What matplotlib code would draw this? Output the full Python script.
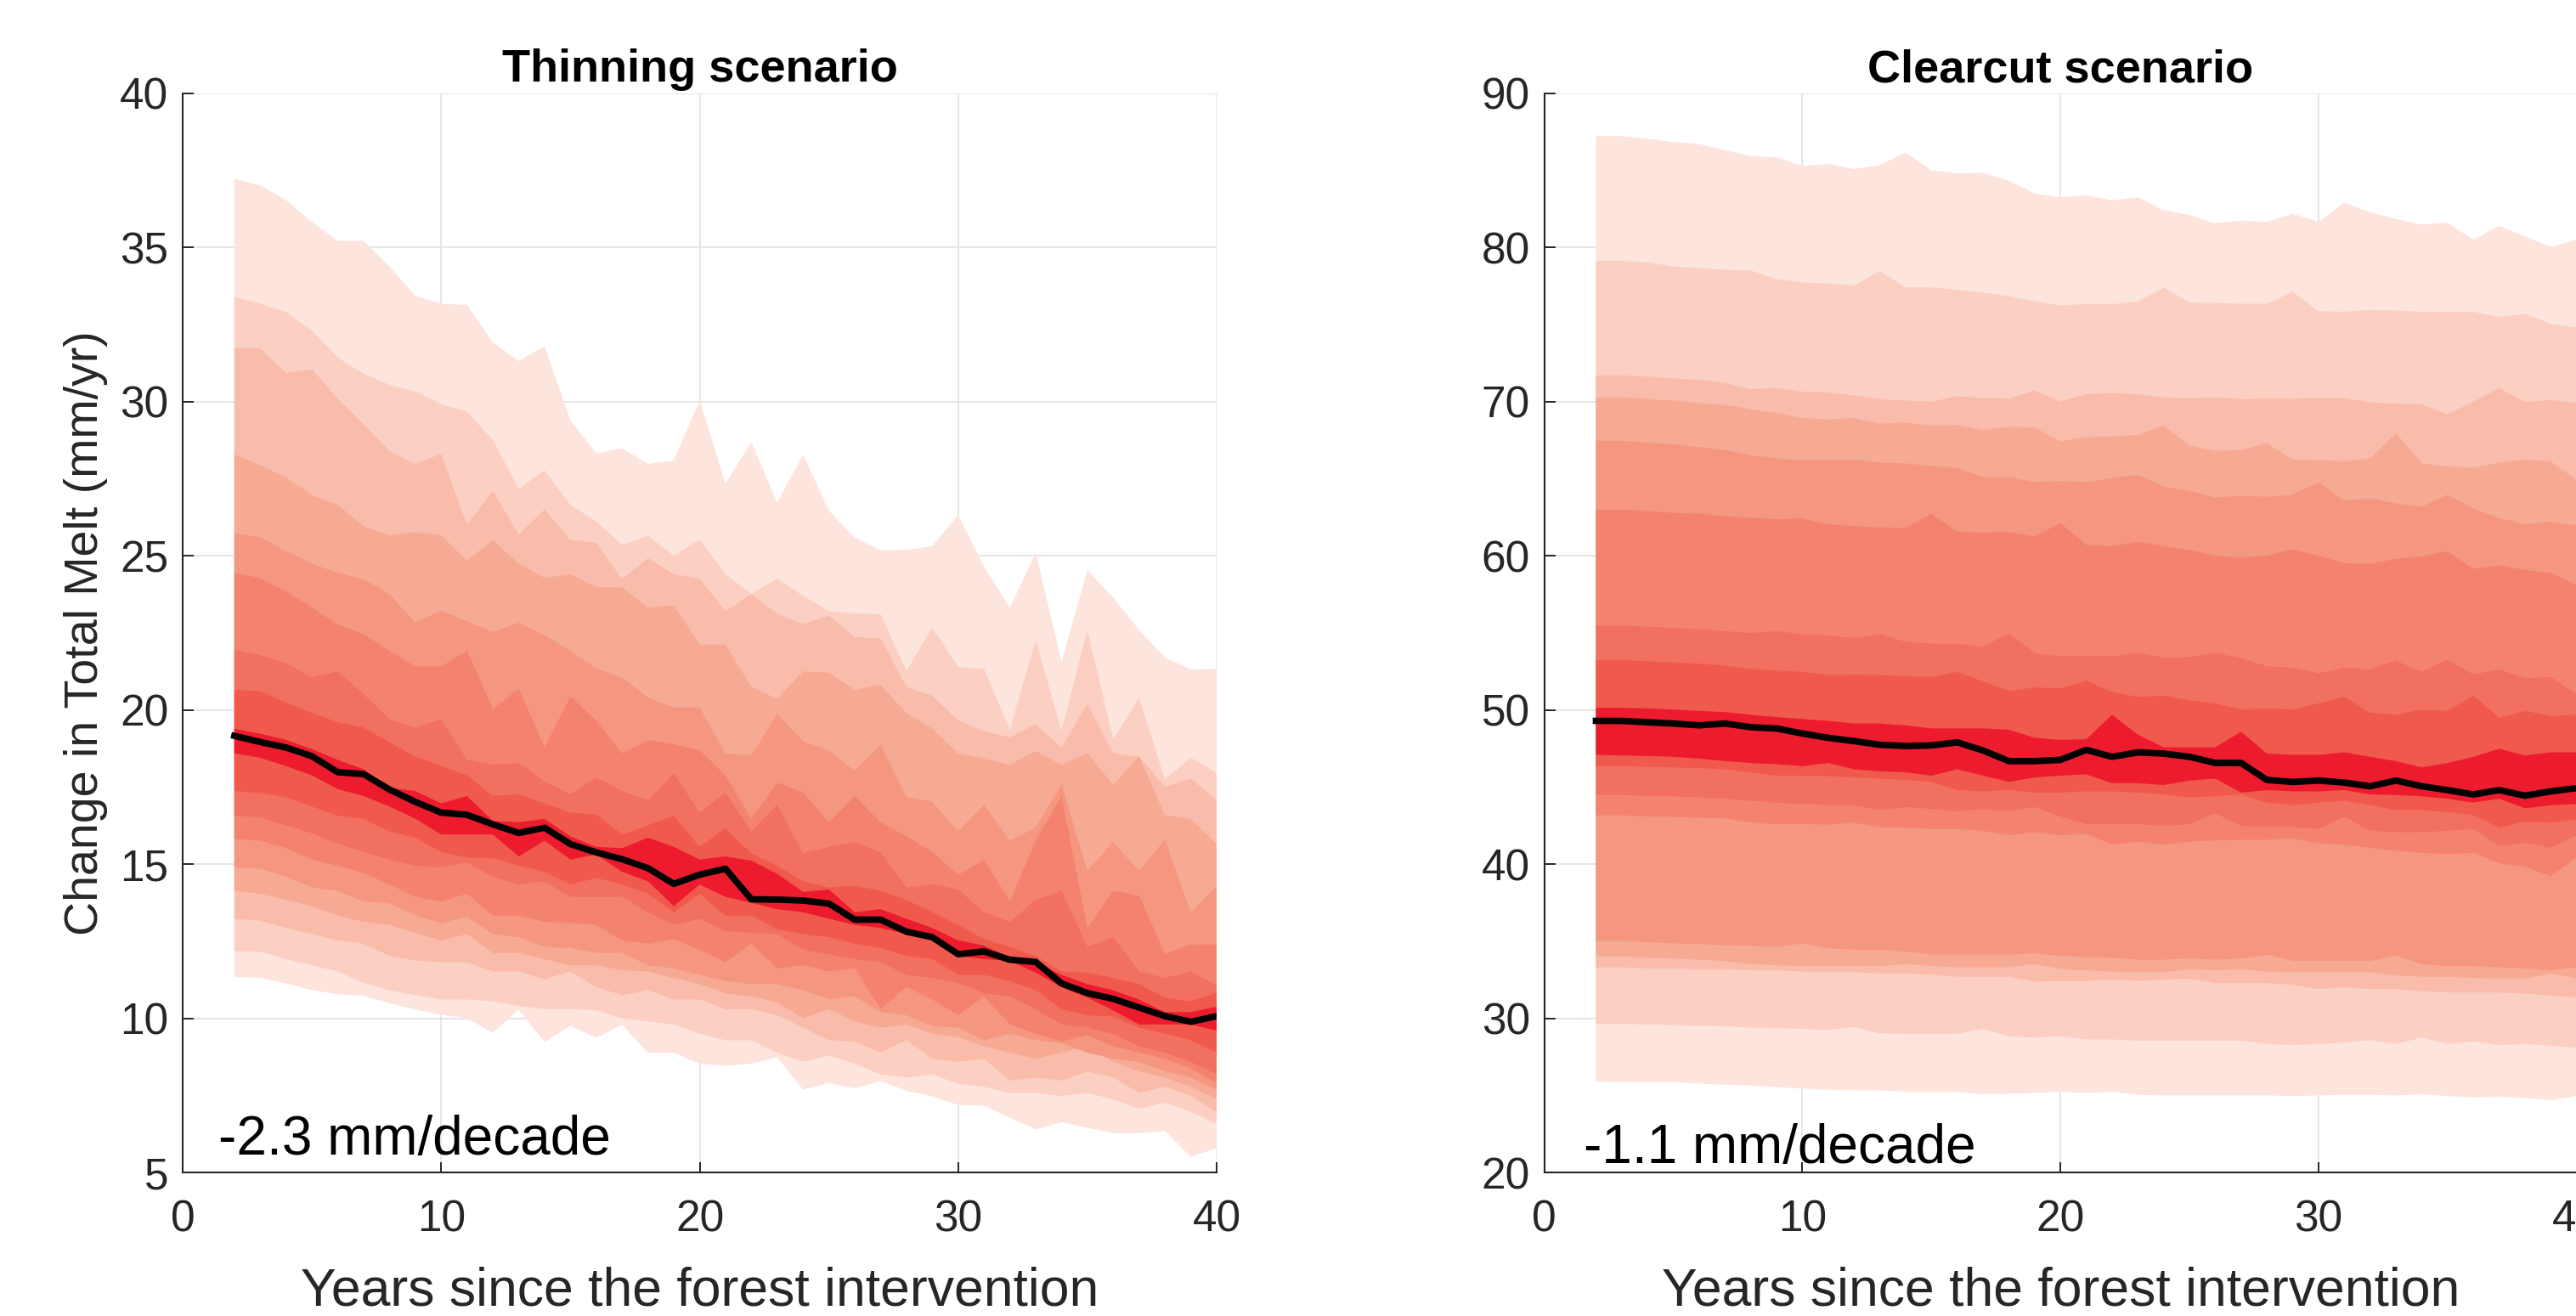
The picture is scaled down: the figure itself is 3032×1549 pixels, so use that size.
import matplotlib
matplotlib.use("Agg")
import matplotlib.pyplot as plt

# Years since the intervention (x positions of every percentile series)
years = list(range(2, 41))

# ---------------- Thinning scenario: percentiles of change in total melt (mm/yr)
thin_p95 = [37.24, 37.02, 36.54, 35.83, 35.22, 35.22, 34.39, 33.44, 33.18, 33.14, 31.93, 31.32, 31.81,
            29.40, 28.33, 28.49, 27.99, 28.09, 30.05, 27.34, 28.70, 26.72, 28.29, 26.47, 25.59, 25.18,
            25.20, 25.32, 26.33, 24.66, 23.32, 25.10, 21.57, 24.54, 23.65, 22.60, 21.71, 21.32, 21.34]
thin_p90 = [33.39, 33.19, 32.91, 32.32, 31.43, 30.91, 30.55, 30.34, 29.92, 29.68, 28.76, 27.18, 27.78,
            26.66, 26.12, 25.36, 25.66, 25.01, 25.53, 24.41, 23.77, 24.27, 23.71, 23.21, 23.14, 23.12,
            21.27, 22.69, 21.40, 21.35, 19.37, 22.27, 19.32, 22.61, 19.06, 20.40, 17.75, 18.46, 17.98]
thin_p85 = [31.76, 31.74, 30.94, 31.06, 30.10, 29.28, 28.41, 27.99, 28.31, 26.02, 27.12, 25.70, 26.51,
            25.53, 25.43, 24.25, 24.93, 24.41, 24.27, 23.21, 23.77, 23.14, 22.79, 23.07, 22.37, 22.33,
            20.76, 20.47, 19.67, 19.32, 19.12, 19.55, 18.80, 20.21, 18.60, 18.50, 17.52, 17.79, 17.08]
thin_p80 = [28.29, 27.95, 27.55, 26.98, 26.66, 25.97, 25.67, 25.77, 25.67, 24.86, 25.51, 24.76, 24.29,
            24.41, 23.99, 23.99, 23.32, 23.40, 22.13, 22.13, 20.76, 20.37, 21.26, 21.22, 20.66, 20.82,
            19.91, 19.40, 18.60, 18.43, 18.23, 18.68, 18.23, 18.60, 17.59, 18.50, 16.60, 16.48, 15.66]
thin_p75 = [25.73, 25.61, 25.16, 24.76, 24.45, 24.25, 23.77, 22.84, 23.24, 22.88, 22.54, 22.84, 22.43,
            21.93, 21.36, 21.06, 20.41, 20.09, 20.09, 18.60, 18.54, 19.87, 19.00, 18.70, 18.03, 18.88,
            17.18, 17.04, 16.07, 16.94, 15.77, 16.20, 17.60, 14.80, 15.73, 14.79, 15.81, 13.44, 14.31]
thin_p70 = [24.45, 24.29, 23.85, 23.34, 22.78, 22.47, 21.93, 21.42, 21.42, 21.93, 20.05, 20.70, 18.80,
            20.45, 19.67, 18.60, 19.04, 18.90, 18.70, 17.89, 16.48, 17.65, 17.34, 16.37, 17.22, 16.37,
            15.91, 15.40, 14.66, 15.16, 13.81, 15.77, 17.22, 12.94, 14.15, 13.99, 12.10, 12.40, 12.41]
thin_p65 = [21.97, 21.79, 21.53, 21.06, 21.26, 20.52, 19.71, 19.44, 19.71, 18.39, 18.23, 18.29, 17.69,
            17.28, 17.83, 17.38, 17.08, 17.95, 16.68, 17.34, 16.07, 16.94, 15.36, 15.57, 15.73, 15.40,
            14.25, 14.35, 14.19, 13.45, 13.14, 13.85, 14.15, 12.33, 12.64, 11.53, 11.32, 11.53, 11.08]
thin_p60 = [20.66, 20.62, 20.25, 19.91, 19.61, 19.44, 18.96, 18.50, 18.19, 17.89, 17.22, 17.28, 16.98,
            16.68, 16.62, 15.97, 16.27, 16.58, 15.57, 16.17, 15.36, 14.96, 14.45, 14.25, 14.31, 14.15,
            13.85, 13.45, 13.04, 12.58, 12.33, 12.03, 11.53, 11.49, 11.32, 11.12, 10.68, 10.56, 10.84]
thin_p55 = [19.40, 19.24, 19.04, 18.74, 18.39, 18.09, 17.49, 17.38, 16.98, 17.22, 16.41, 16.37, 16.48,
            15.91, 15.57, 15.53, 15.87, 15.57, 15.16, 15.26, 15.12, 14.70, 14.11, 14.19, 13.45, 13.55,
            13.24, 12.94, 12.54, 12.37, 11.99, 11.83, 11.42, 11.12, 10.92, 10.62, 10.21, 10.21, 10.39]
thin_p50 = [19.17, 18.97, 18.79, 18.51, 17.99, 17.93, 17.43, 17.03, 16.68, 16.61, 16.30, 16.02, 16.19,
            15.66, 15.39, 15.17, 14.88, 14.37, 14.67, 14.86, 13.87, 13.86, 13.83, 13.73, 13.21, 13.21,
            12.82, 12.64, 12.09, 12.18, 11.91, 11.84, 11.14, 10.83, 10.64, 10.36, 10.08, 9.90, 10.08]
thin_p45 = [18.60, 18.46, 18.19, 17.89, 17.44, 17.22, 16.88, 16.48, 15.97, 15.97, 15.97, 15.26, 15.77,
            15.16, 15.32, 14.76, 14.45, 13.65, 14.35, 13.95, 13.75, 13.55, 13.45, 13.24, 13.04, 12.94,
            12.74, 12.54, 12.03, 11.93, 11.87, 11.49, 11.02, 10.68, 10.27, 9.81, 9.81, 9.81, 9.61]
thin_p40 = [17.38, 17.32, 17.18, 16.88, 16.58, 16.48, 16.07, 15.87, 15.40, 15.22, 15.20, 14.96, 14.76,
            14.35, 14.56, 14.35, 14.05, 13.45, 14.05, 13.34, 13.34, 12.90, 12.74, 12.64, 12.43, 12.29,
            12.03, 11.93, 11.42, 11.42, 11.22, 10.92, 10.31, 10.11, 10.07, 9.71, 9.51, 9.30, 8.90]
thin_p35 = [16.58, 16.52, 16.27, 16.01, 15.67, 15.40, 15.16, 14.96, 14.90, 15.06, 14.60, 14.35, 14.45,
            13.95, 13.95, 13.95, 13.45, 13.04, 13.24, 12.84, 12.78, 12.74, 12.23, 12.09, 11.93, 11.83,
            11.42, 11.32, 11.16, 10.82, 10.72, 10.31, 9.81, 9.71, 9.51, 9.10, 8.90, 8.60, 8.19]
thin_p30 = [15.83, 15.77, 15.53, 15.16, 14.96, 14.72, 14.35, 13.95, 13.79, 14.05, 13.34, 13.34, 13.14,
            13.10, 13.04, 12.54, 12.43, 12.58, 12.23, 11.83, 12.43, 11.63, 11.73, 11.53, 11.63, 10.31,
            11.02, 10.62, 10.11, 10.72, 9.81, 9.51, 9.26, 9.47, 9.10, 8.90, 8.70, 8.39, 7.89]
thin_p25 = [14.90, 14.86, 14.60, 14.25, 14.15, 13.79, 13.75, 13.34, 13.10, 13.30, 12.74, 12.64, 12.33,
            12.29, 12.13, 12.13, 11.73, 11.63, 11.42, 11.22, 11.12, 11.12, 10.92, 10.62, 10.72, 10.21,
            10.11, 9.75, 9.71, 9.30, 9.51, 9.30, 9.20, 8.90, 8.70, 8.60, 8.29, 8.09, 7.69]
thin_p20 = [14.15, 14.05, 13.85, 13.65, 13.34, 13.14, 13.04, 12.78, 12.54, 12.74, 12.13, 12.13, 11.93,
            11.73, 11.73, 11.57, 11.53, 11.32, 11.12, 10.82, 10.72, 10.52, 10.01, 10.31, 9.91, 9.71,
            9.81, 9.51, 9.40, 9.10, 8.90, 8.70, 8.90, 9.10, 8.60, 8.29, 8.09, 7.79, 7.38]
thin_p15 = [13.24, 13.18, 12.94, 12.74, 12.54, 12.43, 12.03, 11.89, 11.83, 11.83, 11.53, 11.53, 11.28,
            11.53, 11.02, 10.76, 10.92, 10.62, 10.62, 10.31, 10.31, 10.11, 9.71, 9.30, 9.26, 8.90,
            9.30, 8.70, 8.60, 8.70, 7.99, 8.09, 7.99, 8.29, 8.09, 7.59, 7.79, 7.49, 6.98]
thin_p10 = [12.19, 12.17, 11.93, 11.73, 11.53, 11.16, 10.92, 10.76, 10.62, 10.62, 10.56, 10.41, 10.31,
            10.31, 10.27, 10.01, 9.91, 9.81, 9.51, 9.30, 9.30, 8.90, 8.60, 8.80, 8.54, 8.19,
            8.09, 8.19, 7.89, 7.79, 7.59, 7.59, 7.49, 7.59, 7.38, 7.08, 7.28, 6.98, 6.58]
thin_p5 = [11.35, 11.32, 11.14, 10.93, 10.79, 10.74, 10.50, 10.29, 10.13, 10.01, 9.55, 10.29, 9.24,
           9.77, 9.38, 9.80, 8.89, 8.89, 8.54, 8.47, 8.54, 8.75, 7.70, 7.91, 7.74, 7.98,
           7.66, 7.48, 7.20, 7.18, 6.79, 6.41, 6.64, 6.46, 6.29, 6.29, 6.36, 5.52, 5.80]

# ---------------- Clearcut scenario
cc_p95 = [87.23, 87.23, 87.06, 86.84, 86.73, 86.31, 85.94, 85.86, 85.30, 85.43, 85.10, 85.35, 86.17,
          85.01, 84.82, 84.85, 84.34, 83.52, 83.27, 83.38, 83.07, 83.27, 82.43, 82.12, 81.58, 81.75,
          81.67, 82.20, 81.67, 82.93, 82.29, 81.86, 81.50, 81.61, 80.52, 81.41, 80.74, 80.04, 80.52]
cc_p90 = [79.14, 79.14, 79.05, 78.77, 78.69, 78.57, 78.52, 77.95, 77.75, 77.67, 77.55, 78.48, 77.42,
          77.42, 77.26, 77.10, 76.85, 76.53, 76.24, 76.36, 76.33, 76.53, 77.42, 76.45, 76.41, 76.36,
          76.36, 77.14, 75.88, 75.84, 75.96, 75.92, 75.84, 75.84, 75.84, 75.51, 75.71, 75.06, 74.82]
cc_p85 = [71.72, 71.72, 71.64, 71.52, 71.43, 71.23, 70.82, 70.90, 70.66, 70.62, 70.42, 70.17, 70.09,
          70.01, 70.37, 70.25, 70.21, 70.74, 70.01, 70.50, 70.58, 70.50, 70.29, 70.25, 70.29, 70.17,
          70.21, 70.21, 70.25, 70.25, 69.97, 69.89, 69.84, 69.19, 70.01, 70.90, 69.97, 70.13, 69.93]
cc_p80 = [70.29, 70.29, 70.17, 70.09, 69.93, 69.80, 69.52, 69.27, 68.95, 68.87, 68.95, 68.58, 68.66,
          68.46, 68.50, 68.17, 68.38, 68.34, 67.44, 67.69, 67.77, 67.85, 68.46, 67.16, 66.83, 66.87,
          67.32, 66.26, 66.22, 66.14, 66.34, 67.97, 66.01, 65.81, 65.73, 66.06, 66.26, 66.14, 64.91]
cc_p75 = [67.48, 67.48, 67.36, 67.24, 67.07, 66.87, 66.54, 66.34, 66.22, 66.22, 66.26, 66.06, 66.01,
          65.85, 65.73, 65.12, 65.12, 64.79, 64.87, 64.79, 65.04, 65.28, 64.51, 64.22, 63.81, 63.90,
          63.85, 63.98, 64.79, 63.61, 63.73, 63.41, 63.20, 63.98, 63.08, 62.47, 62.06, 62.22, 61.98]
cc_p70 = [63.00, 63.00, 62.92, 62.80, 62.75, 62.59, 62.47, 62.39, 62.43, 62.06, 61.94, 61.86, 61.82,
          62.75, 61.57, 61.53, 61.57, 61.25, 62.14, 60.72, 60.64, 60.92, 60.64, 60.39, 60.02, 59.90,
          60.02, 60.43, 60.02, 59.54, 59.50, 59.82, 59.98, 60.31, 59.17, 59.41, 59.09, 58.92, 58.11]
cc_p65 = [55.50, 55.50, 55.42, 55.34, 55.26, 55.13, 55.01, 55.13, 54.93, 54.85, 54.69, 54.93, 54.44,
          54.32, 54.32, 54.12, 55.01, 53.71, 53.50, 53.54, 53.50, 53.71, 53.42, 53.46, 53.71, 53.38,
          52.85, 52.77, 52.40, 52.77, 52.65, 53.22, 52.49, 53.30, 52.32, 52.65, 52.08, 52.16, 51.06]
cc_p60 = [53.26, 53.26, 53.18, 53.10, 53.02, 52.89, 52.69, 52.57, 52.49, 52.28, 52.32, 52.28, 52.20,
          52.16, 52.49, 51.87, 51.26, 51.47, 51.43, 51.92, 51.18, 50.86, 50.94, 50.65, 50.45, 50.04,
          50.12, 50.04, 50.45, 50.86, 49.84, 49.71, 50.04, 49.96, 50.94, 49.51, 49.96, 49.63, 49.71]
cc_p55 = [50.16, 50.16, 50.12, 50.04, 49.96, 49.88, 49.71, 49.55, 49.43, 49.31, 49.14, 49.14, 49.02,
          48.82, 48.82, 48.82, 48.74, 48.21, 48.08, 48.12, 49.71, 48.41, 47.60, 47.60, 47.60, 48.61,
          47.19, 47.11, 47.11, 47.27, 46.98, 46.70, 46.29, 46.58, 46.98, 47.51, 47.07, 47.27, 47.27]
cc_p50 = [49.31, 49.31, 49.22, 49.14, 49.02, 49.14, 48.90, 48.82, 48.49, 48.21, 48.00, 47.76, 47.68,
          47.72, 47.92, 47.39, 46.70, 46.70, 46.78, 47.43, 46.98, 47.27, 47.19, 46.98, 46.58, 46.58,
          45.48, 45.35, 45.44, 45.31, 45.07, 45.44, 45.07, 44.82, 44.54, 44.82, 44.46, 44.74, 44.95]
cc_p45 = [47.11, 47.07, 47.03, 46.98, 46.86, 46.70, 46.58, 46.50, 46.37, 46.58, 46.17, 46.05, 45.97,
          45.76, 46.17, 45.76, 45.35, 45.64, 45.76, 45.84, 45.27, 45.27, 45.15, 45.44, 45.56, 44.66,
          44.82, 44.74, 44.74, 44.82, 44.54, 44.50, 44.42, 44.26, 44.01, 44.26, 43.64, 43.84, 43.92]
cc_p40 = [46.37, 46.37, 46.33, 46.29, 46.25, 46.17, 45.97, 45.76, 45.76, 45.72, 45.64, 45.56, 45.48,
          45.35, 44.82, 44.74, 44.82, 44.66, 44.66, 44.74, 44.74, 44.66, 44.54, 44.34, 44.42, 44.54,
          44.01, 43.85, 44.01, 44.13, 43.85, 43.52, 43.52, 43.40, 43.19, 42.38, 42.79, 42.71, 42.91]
cc_p35 = [44.50, 44.50, 44.46, 44.42, 44.34, 44.26, 44.13, 44.01, 43.93, 43.85, 43.81, 43.52, 43.72,
          43.60, 43.44, 43.60, 43.44, 43.72, 43.11, 42.62, 42.62, 42.62, 42.50, 42.62, 43.32, 42.50,
          42.42, 42.42, 42.30, 43.11, 42.18, 42.09, 42.09, 42.18, 42.30, 41.20, 41.40, 41.08, 41.89]
cc_p30 = [43.19, 43.19, 43.11, 43.07, 43.03, 42.99, 42.71, 42.62, 42.62, 42.58, 42.71, 42.42, 42.38,
          42.30, 42.30, 42.18, 41.89, 42.09, 41.89, 41.97, 41.28, 41.48, 41.28, 41.48, 41.56, 41.60,
          41.60, 41.69, 41.36, 41.28, 41.08, 40.87, 40.75, 40.67, 40.75, 40.06, 39.85, 39.24, 40.46]
cc_p25 = [35.04, 35.04, 34.96, 34.88, 34.84, 34.76, 34.72, 34.64, 34.88, 34.56, 34.47, 34.47, 34.35,
          34.15, 34.15, 34.15, 34.15, 34.23, 34.07, 33.98, 33.94, 33.82, 33.82, 33.90, 33.82, 33.90,
          34.15, 33.74, 33.74, 33.74, 33.74, 34.07, 33.54, 33.41, 33.41, 33.33, 33.25, 33.13, 33.33]
cc_p20 = [34.03, 34.03, 33.94, 33.90, 33.82, 33.74, 33.54, 33.46, 33.41, 33.41, 33.41, 33.41, 33.54,
          33.41, 33.33, 33.33, 33.33, 33.54, 33.21, 33.13, 33.05, 33.01, 33.01, 33.21, 33.13, 33.21,
          33.05, 33.01, 33.01, 33.01, 33.01, 32.80, 32.72, 32.72, 32.64, 32.60, 32.60, 32.93, 32.60]
cc_p15 = [33.33, 33.33, 33.25, 33.25, 33.21, 33.21, 33.13, 33.13, 33.05, 33.01, 33.01, 32.93, 32.93,
          32.84, 32.72, 32.72, 32.72, 32.40, 32.44, 32.44, 32.52, 32.44, 32.52, 32.60, 32.31, 32.31,
          32.31, 32.19, 31.91, 32.03, 31.91, 31.91, 31.78, 31.70, 31.70, 31.70, 31.62, 31.50, 31.38]
cc_p10 = [29.67, 29.67, 29.62, 29.58, 29.54, 29.50, 29.42, 29.38, 29.34, 29.26, 29.46, 29.05, 29.01,
          29.01, 29.01, 29.34, 28.85, 28.77, 28.85, 28.65, 28.65, 28.57, 28.57, 28.57, 28.57, 28.57,
          28.36, 28.28, 28.36, 28.44, 28.61, 28.36, 28.77, 28.36, 28.52, 28.28, 28.36, 28.24, 28.12]
cc_p5 = [25.92, 25.88, 25.88, 25.88, 25.79, 25.71, 25.67, 25.55, 25.47, 25.39, 25.35, 25.35, 25.26,
         25.26, 25.26, 25.10, 25.14, 25.18, 25.26, 25.18, 25.26, 25.06, 25.02, 25.02, 25.02, 25.02,
         25.02, 24.98, 25.02, 25.06, 25.06, 25.02, 25.10, 24.98, 24.90, 24.94, 24.86, 24.70, 24.98]

# Trend annotations
thin_trend = "-2.3 mm/decade"
cc_trend = "-1.1 mm/decade"

# Fan colours, outermost (5-95 %) to central (45-55 %) band
fan_colors = ["#fde4dc", "#fbd0c3", "#f9bcaa", "#f6aa94", "#f59780",
              "#f3836f", "#f17060", "#f05a4c", "#ec1c2e"]

AXIS_GREY = "#262626"
plt.rcParams["font.family"] = ["Liberation Sans", "DejaVu Sans"]

fig = plt.figure(figsize=(30.32, 15.49), dpi=100)
ax_thin = fig.add_axes([0.07091, 0.10878, 0.40139, 0.82021])
ax_cc = fig.add_axes([0.59951, 0.10878, 0.40073, 0.82021])


def draw_fan(ax, lows, highs, median):
    # outer band first, each inner band painted over it
    for lo, hi, col in zip(lows, highs, fan_colors):
        ax.fill_between(years, lo, hi, facecolor=col, edgecolor="none", linewidth=0, zorder=2)
    ax.plot(years, median, color="black", linewidth=5.5, zorder=3)


def style_axes(ax, ymin, ymax, ystep, title):
    ax.set_xlim(0, 40)
    ax.set_ylim(ymin, ymax)
    ax.set_xticks(range(0, 41, 10))
    ax.set_yticks(range(ymin, ymax + 1, ystep))
    ax.grid(True, color="#dfdfdf", linewidth=1.1)
    ax.set_axisbelow(True)
    for side in ("top", "right"):
        ax.spines[side].set_visible(False)
    for side in ("left", "bottom"):
        ax.spines[side].set_color(AXIS_GREY)
        ax.spines[side].set_linewidth(1.5)
    ax.tick_params(direction="in", length=9, width=1.4, colors=AXIS_GREY, labelsize=37)
    ax.tick_params(axis="x", pad=22)
    ax.tick_params(axis="y", pad=12)
    ax.set_title(title, fontsize=39, fontweight="bold", color="black", pad=10)
    ax.set_xlabel("Years since the forest intervention", fontsize=45, color=AXIS_GREY, labelpad=22)


draw_fan(ax_thin,
         [thin_p5, thin_p10, thin_p15, thin_p20, thin_p25, thin_p30, thin_p35, thin_p40, thin_p45],
         [thin_p95, thin_p90, thin_p85, thin_p80, thin_p75, thin_p70, thin_p65, thin_p60, thin_p55],
         thin_p50)
draw_fan(ax_cc,
         [cc_p5, cc_p10, cc_p15, cc_p20, cc_p25, cc_p30, cc_p35, cc_p40, cc_p45],
         [cc_p95, cc_p90, cc_p85, cc_p80, cc_p75, cc_p70, cc_p65, cc_p60, cc_p55],
         cc_p50)

style_axes(ax_thin, 5, 40, 5, "Thinning scenario")
style_axes(ax_cc, 20, 90, 10, "Clearcut scenario")
ax_thin.set_ylabel("Change in Total Melt (mm/yr)", fontsize=40, color=AXIS_GREY, labelpad=10)

ax_thin.text(1.38, 5.59, thin_trend, fontsize=46, color="black", ha="left", va="baseline", zorder=4)
ax_cc.text(1.51, 20.62, cc_trend, fontsize=46, color="black", ha="left", va="baseline", zorder=4)

fig.savefig("out.png", dpi=100)
